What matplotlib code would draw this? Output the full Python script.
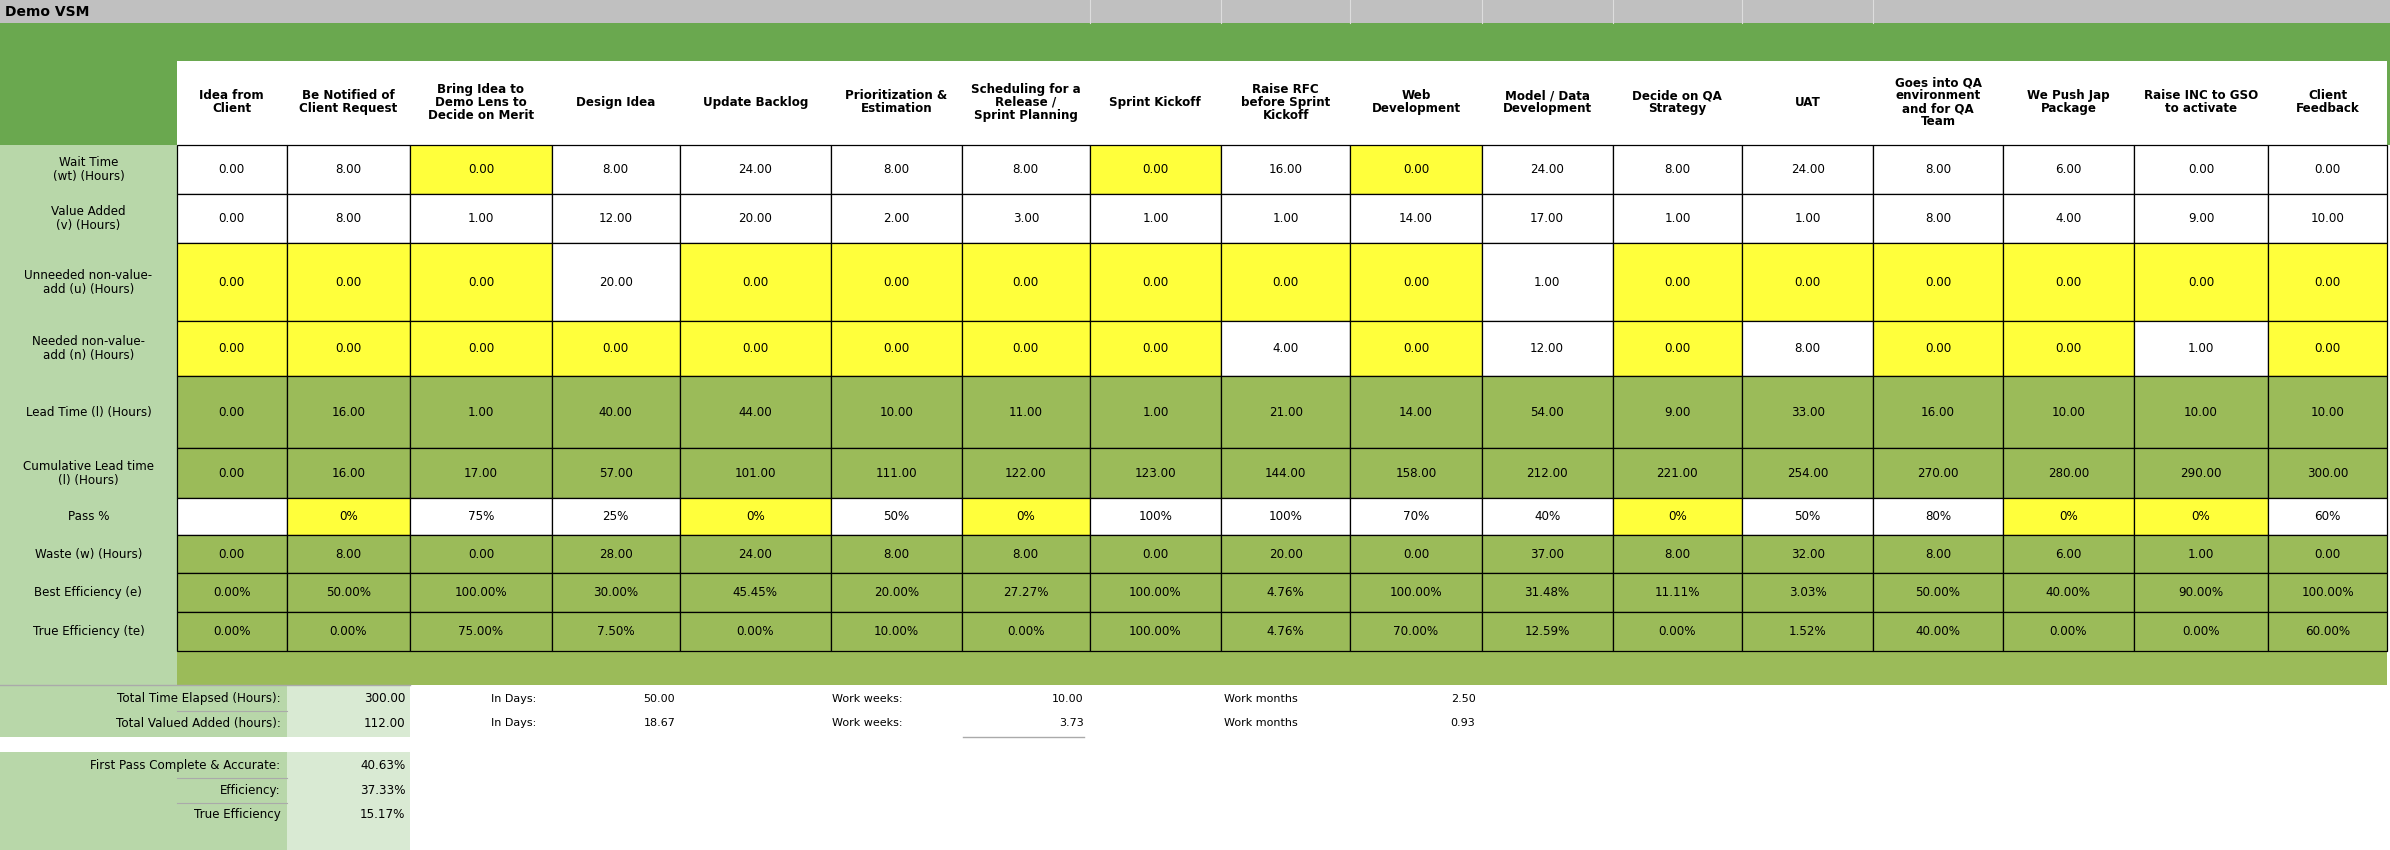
import matplotlib.pyplot as plt
from matplotlib.patches import Rectangle

steps = ["Idea from\nClient", "Be Notified of\nClient Request", "Bring Idea to\nDemo Lens to\nDecide on Merit",
         "Design Idea", "Update Backlog", "Prioritization &\nEstimation", "Scheduling for a\nRelease /\nSprint Planning",
         "Sprint Kickoff", "Raise RFC\nbefore Sprint\nKickoff", "Web\nDevelopment", "Model / Data\nDevelopment",
         "Decide on QA\nStrategy", "UAT", "Goes into QA\nenvironment\nand for QA\nTeam", "We Push Jap\nPackage",
         "Raise INC to GSO\nto activate", "Client\nFeedback"]
row_labels = ["Wait Time\n(wt) (Hours)", "Value Added\n(v) (Hours)", "Unneeded non-value-\nadd (u) (Hours)",
              "Needed non-value-\nadd (n) (Hours)", "Lead Time (l) (Hours)", "Cumulative Lead time\n(l) (Hours)",
              "Pass %", "Waste (w) (Hours)", "Best Efficiency (e)", "True Efficiency (te)"]
wait = [0, 8, 0, 8, 24, 8, 8, 0, 16, 0, 24, 8, 24, 8, 6, 0, 0]
value_added = [0, 8, 1, 12, 20, 2, 3, 1, 1, 14, 17, 1, 1, 8, 4, 9, 10]
unneeded = [0, 0, 0, 20, 0, 0, 0, 0, 0, 0, 1, 0, 0, 0, 0, 0, 0]
needed = [0, 0, 0, 0, 0, 0, 0, 0, 4, 0, 12, 0, 8, 0, 0, 1, 0]
lead = [0, 16, 1, 40, 44, 10, 11, 1, 21, 14, 54, 9, 33, 16, 10, 10, 10]
cum_lead = [0, 16, 17, 57, 101, 111, 122, 123, 144, 158, 212, 221, 254, 270, 280, 290, 300]
pass_pct = [None, 0, 75, 25, 0, 50, 0, 100, 100, 70, 40, 0, 50, 80, 0, 0, 60]
waste = [0, 8, 0, 28, 24, 8, 8, 0, 20, 0, 37, 8, 32, 8, 6, 1, 0]
best_eff = [0, 50, 100, 30, 45.45, 20, 27.27, 100, 4.76, 100, 31.48, 11.11, 3.03, 50, 40, 90, 100]
true_eff = [0, 0, 75, 7.5, 0, 10, 0, 100, 4.76, 70, 12.59, 0, 1.52, 40, 0, 0, 60]
wait_yellow = [2, 7, 9]

col_x = [116, 188, 269, 362, 446, 545, 631, 715, 801, 886, 972, 1058, 1143, 1229, 1314, 1400, 1488, 1566]
row_y = [95, 127, 159, 210, 246, 293, 326, 350, 375, 400, 426]

W, H = 1568, 556
fig = plt.figure(figsize=(23.9, 8.5), dpi=100)
ax = fig.add_axes([0, 0, 1, 1])
ax.set_xlim(0, W)
ax.set_ylim(H, 0)
ax.axis("off")

YEL, OLIVE, WHITE = "#ffff3b", "#9bbb59", "white"
LGREEN, LLGREEN, DGREEN = "#b8d7a9", "#d9ead3", "#6aa84f"
FS = 8.6

def rect(x0, y0, x1, y1, fc, ec="none", lw=0.9):
    ax.add_patch(Rectangle((x0, y0), x1 - x0, y1 - y0, fc=fc, ec=ec, lw=lw))

# title bar
rect(0, 0, W, 15, "#c0c0c0")
for x in [715, 801, 886, 972, 1058, 1143, 1229]:
    ax.plot([x, x], [0, 15], color="#dddddd", lw=0.8)
ax.text(3, 8, "Demo VSM", fontsize=10, fontweight="bold", va="center")
rect(0, 15, W, 95, DGREEN)
rect(116, 40, 1566, 95, WHITE)
rect(0, 95, 116, 448, LGREEN)
rect(116, 426, 1566, 448, OLIVE)

fmt2 = lambda v: f"{v:.2f}"
rows = [
    (wait, fmt2, lambda j, v: YEL if j in wait_yellow else WHITE),
    (value_added, fmt2, lambda j, v: WHITE),
    (unneeded, fmt2, lambda j, v: YEL if v == 0 else WHITE),
    (needed, fmt2, lambda j, v: YEL if v == 0 else WHITE),
    (lead, fmt2, lambda j, v: OLIVE),
    (cum_lead, fmt2, lambda j, v: OLIVE),
    (pass_pct, lambda v: "" if v is None else f"{v:.0f}%", lambda j, v: YEL if v == 0 else WHITE),
    (waste, fmt2, lambda j, v: OLIVE),
    (best_eff, lambda v: f"{v:.2f}%", lambda j, v: OLIVE),
    (true_eff, lambda v: f"{v:.2f}%", lambda j, v: OLIVE),
]

for j, name in enumerate(steps):
    xc = (col_x[j] + col_x[j + 1]) / 2
    ax.text(xc, 67, name, ha="center", va="center", fontsize=FS, fontweight="bold", linespacing=1.0)

for i, (vals, f, color) in enumerate(rows):
    y0, y1 = row_y[i], row_y[i + 1]
    ax.text(58, (y0 + y1) / 2, row_labels[i], ha="center", va="center", fontsize=FS, linespacing=1.1)
    for j, v in enumerate(vals):
        x0, x1 = col_x[j], col_x[j + 1]
        rect(x0, y0, x1, y1, color(j, v), ec="black", lw=0.9)
        ax.text((x0 + x1) / 2, (y0 + y1) / 2, f(v), ha="center", va="center", fontsize=FS)

# summary block
rect(0, 448, 188, 482, LGREEN)
rect(188, 448, 269, 482, LLGREEN)
rect(0, 492, 188, 556, LGREEN)
rect(188, 492, 269, 556, LLGREEN)
sum_labels = ["Total Time Elapsed (Hours):", "Total Valued Added (hours):"]
sum_vals = ["300.00", "112.00"]
days = ["50.00", "18.67"]
weeks = ["10.00", "3.73"]
months = ["2.50", "0.93"]
for i, y in enumerate([457, 473]):
    ax.text(184, y, sum_labels[i], ha="right", va="center", fontsize=FS)
    ax.text(266, y, sum_vals[i], ha="right", va="center", fontsize=FS)
    ax.text(322, y, "In Days:", ha="left", va="center", fontsize=FS - 0.6)
    ax.text(443, y, days[i], ha="right", va="center", fontsize=FS - 0.6)
    ax.text(546, y, "Work weeks:", ha="left", va="center", fontsize=FS - 0.6)
    ax.text(711, y, weeks[i], ha="right", va="center", fontsize=FS - 0.6)
    ax.text(803, y, "Work months", ha="left", va="center", fontsize=FS - 0.6)
    ax.text(968, y, months[i], ha="right", va="center", fontsize=FS - 0.6)
ax.plot([632, 711], [482, 482], color="#aaaaaa", lw=1)
ax.plot([0, 269], [448, 448], color="#aaaaaa", lw=1)
ax.plot([116, 188], [465, 465], color="#aaaaaa", lw=0.8)

eff_labels = ["First Pass Complete & Accurate:", "Efficiency:", "True Efficiency"]
eff_vals = ["40.63%", "37.33%", "15.17%"]
for i, y in enumerate([501, 517, 533]):
    ax.text(184, y, eff_labels[i], ha="right", va="center", fontsize=FS)
    ax.text(266, y, eff_vals[i], ha="right", va="center", fontsize=FS)
ax.plot([116, 188], [509, 509], color="#aaaaaa", lw=0.8)
ax.plot([116, 188], [525, 525], color="#aaaaaa", lw=0.8)

fig.savefig("out.png", dpi=100)
